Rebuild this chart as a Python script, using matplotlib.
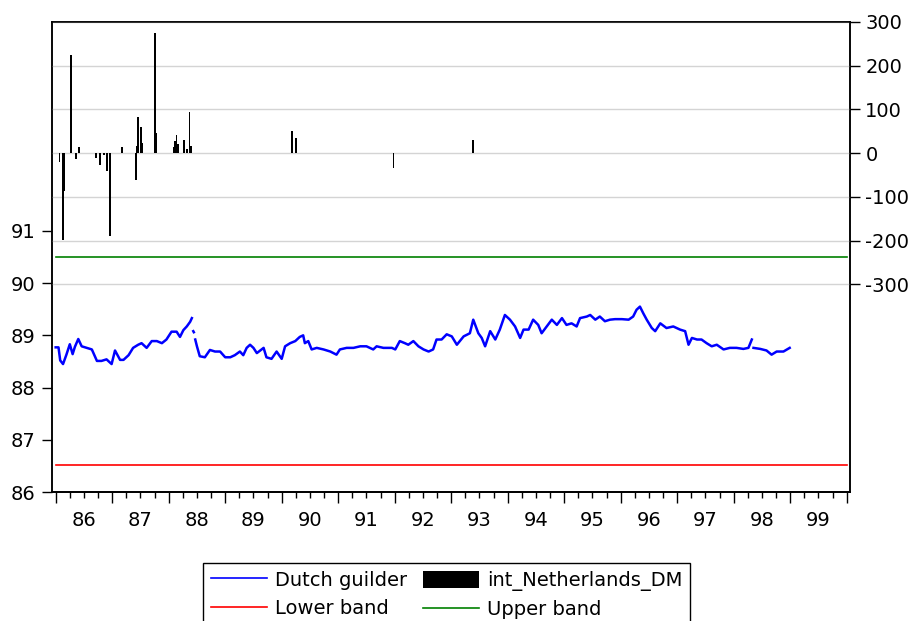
import matplotlib.pyplot as plt
import numpy as np
from matplotlib.ticker import MultipleLocator, NullFormatter

plt.rcParams["font.family"] = ["DejaVu Sans"]
plt.rcParams["axes.unicode_minus"] = False

nan = np.nan

# Dutch guilder (left axis); NaN marks the breaks in the series
guilder_t = [
    1986.00, 1986.05, 1986.08, 1986.13, 1986.19, 1986.25, 1986.30, 1986.34,
    1986.40, 1986.46, 1986.55, 1986.64, 1986.73, 1986.81, 1986.90, 1986.99,
    1987.05, 1987.14, 1987.20, 1987.29, 1987.37, 1987.46, 1987.52, 1987.61,
    1987.70, 1987.79, 1987.88, 1987.96,
    1988.05, 1988.14, 1988.20, 1988.26, 1988.32, 1988.38, 1988.41, nan,
    1988.435, 1988.445, nan,
    1988.47, 1988.50, 1988.55, 1988.64, 1988.73, 1988.82, 1988.91,
    1989.00, 1989.09, 1989.17, 1989.26, 1989.32, 1989.38, 1989.44, 1989.50,
    1989.56, 1989.68, 1989.73, 1989.82, 1989.91,
    1990.00, 1990.06, 1990.15, 1990.24, 1990.32, 1990.38, 1990.41, 1990.47,
    1990.53, 1990.62, 1990.74, 1990.86, 1990.97,
    1991.03, 1991.15, 1991.27, 1991.39, 1991.50, 1991.62, 1991.68, 1991.80, 1991.95,
    1992.01, 1992.09, 1992.18, 1992.24, 1992.33, 1992.42, 1992.51, 1992.60,
    1992.68, 1992.74, 1992.83, 1992.92,
    1993.01, 1993.10, 1993.22, 1993.33, 1993.39, 1993.48, 1993.54, 1993.60,
    1993.69, 1993.78, 1993.86, 1993.95,
    1994.04, 1994.13, 1994.22, 1994.28, 1994.37, 1994.45, 1994.54, 1994.60,
    1994.69, 1994.78, 1994.87, 1994.96,
    1995.04, 1995.13, 1995.22, 1995.28, 1995.40, 1995.46, 1995.55, 1995.63,
    1995.72, 1995.81, 1995.90,
    1996.02, 1996.14, 1996.22, 1996.28, 1996.34, 1996.40, 1996.46, 1996.55,
    1996.61, 1996.70, 1996.81, 1996.93,
    1997.05, 1997.14, 1997.20, 1997.26, 1997.35, 1997.43, 1997.52, 1997.61,
    1997.70, 1997.82, 1997.93,
    1998.05, 1998.17, 1998.26, 1998.32, nan,
    1998.35, 1998.47, 1998.58, 1998.67, 1998.76, 1998.88, 1998.99,
]
guilder_v = [
    88.77, 88.77, 88.52, 88.45, 88.63, 88.83, 88.64, 88.78,
    88.93, 88.79, 88.76, 88.73, 88.51, 88.51, 88.54, 88.45,
    88.71, 88.53, 88.53, 88.62, 88.76, 88.82, 88.85, 88.76,
    88.89, 88.89, 88.85, 88.92,
    89.07, 89.07, 88.97, 89.10, 89.17, 89.26, 89.33, nan,
    89.08, 89.06, nan,
    88.92, 88.79, 88.60, 88.58, 88.72, 88.69, 88.69,
    88.58, 88.58, 88.62, 88.69, 88.62, 88.76, 88.82, 88.76,
    88.66, 88.76, 88.58, 88.55, 88.69,
    88.55, 88.79, 88.85, 88.89, 88.97, 89.00, 88.85, 88.89,
    88.73, 88.76, 88.73, 88.69, 88.63,
    88.73, 88.76, 88.76, 88.79, 88.79, 88.73, 88.79, 88.76, 88.76,
    88.73, 88.89, 88.85, 88.82, 88.89, 88.79, 88.73, 88.69,
    88.73, 88.92, 88.92, 89.02,
    88.98, 88.82, 88.98, 89.04, 89.30, 89.04, 88.95, 88.79,
    89.08, 88.92, 89.11, 89.39,
    89.30, 89.17, 88.95, 89.11, 89.11, 89.30, 89.20, 89.04,
    89.17, 89.30, 89.20, 89.33,
    89.20, 89.23, 89.17, 89.33, 89.36, 89.39, 89.30, 89.36,
    89.27, 89.30, 89.31,
    89.31, 89.30, 89.36, 89.49, 89.55, 89.42, 89.30, 89.14,
    89.08, 89.23, 89.14, 89.17,
    89.11, 89.08, 88.82, 88.95, 88.92, 88.92, 88.85, 88.79,
    88.82, 88.73, 88.76,
    88.76, 88.74, 88.76, 88.92, nan,
    88.76, 88.74, 88.71, 88.63, 88.69, 88.69, 88.76,
]

# ERM bands
band_t = [1986.0, 2000.0]
lower_band = [86.52, 86.52]
upper_band = [90.50, 90.50]

# interventions (right axis)
interv_t = [
    1986.07, 1986.135, 1986.15, 1986.265, 1986.365, 1986.41, 1986.71, 1986.78,
    1986.86, 1986.91, 1986.955, 1986.965, 1987.17, 1987.42, 1987.44, 1987.46,
    1987.515, 1987.53, 1987.76, 1987.775, 1988.09, 1988.11, 1988.14, 1988.165,
    1988.26, 1988.275, 1988.32, 1988.37, 1988.395, 1990.18, 1990.25, 1991.98,
    1993.39,
]
interv_v = [
    -21, -198, -86, 225, -14, 13, -10, -27,
    -4, -40, -111, -189, 14, -62, 17, 82,
    60, 23, 274, 47, 13, 28, 41, 20,
    20, 30, 9, 94, 17, 51, 34, -34,
    31,
]

years = list(range(1986, 2001))
year_labels = ["86", "87", "88", "89", "90", "91", "92", "93", "94", "95",
               "96", "97", "98", "99"]

FS = 14

fig = plt.figure(figsize=(9.14, 6.21), dpi=100)
ax = fig.add_axes([0.0569, 0.2077, 0.8731, 0.7569])

(l_guilder,) = ax.plot(guilder_t, guilder_v, color="#0000ff", lw=1.8)
(l_lower,) = ax.plot(band_t, lower_band, color="#ff0000", lw=1.2)
(l_upper,) = ax.plot(band_t, upper_band, color="#008000", lw=1.2)
ax.set_xlim(1985.935, 2000.058)
ax.set_ylim(86, 95)
ax.set_yticks(range(86, 92))
ax.tick_params(axis="y", direction="out", length=7, width=1, labelsize=FS, pad=5)

# year labels sit in the middle of each year, tick marks go on a second x axis
ax.set_xticks([y + 0.5 for y in years[:-1]], year_labels)
ax.tick_params(axis="x", length=0, pad=14, labelsize=FS)
secax = ax.secondary_xaxis("bottom")
secax.set_xticks(years)
secax.xaxis.set_major_formatter(NullFormatter())
secax.xaxis.set_minor_locator(MultipleLocator(0.25))
secax.tick_params(which="major", direction="out", length=8, width=1)
secax.tick_params(which="minor", direction="out", length=4.5, width=1)

ax2 = ax.twinx()
bars = ax2.bar(interv_t, interv_v, width=0.03, color="black", linewidth=0)
ax2.set_ylim(-775, 300)
ax2.set_yticks(range(-300, 301, 100))
ax2.grid(axis="y", color="#d4d4d4", lw=1)
ax2.set_axisbelow(True)
ax2.tick_params(axis="y", direction="out", length=7, width=1, labelsize=FS, pad=4)

for a in (ax, ax2):
    for s in a.spines.values():
        s.set_color("black")
        s.set_linewidth(1.1)
secax.spines["bottom"].set_linewidth(1.1)

leg = fig.legend(
    [l_guilder, l_lower, bars, l_upper],
    ["Dutch guilder", "Lower band", "int_Netherlands_DM", "Upper band"],
    ncol=2,
    loc="upper left",
    bbox_to_anchor=(0.222, 0.0934),
    fancybox=False,
    edgecolor="black",
    framealpha=1,
    fontsize=FS,
    handlelength=2.9,
    handleheight=1.0,
    handletextpad=0.4,
    columnspacing=0.8,
    labelspacing=0.45,
    borderpad=0.4,
    borderaxespad=0,
)
leg.get_frame().set_linewidth(1.0)
for h in leg.get_lines():
    h.set_linewidth(1.2)

fig.savefig("out.png", dpi=100)
